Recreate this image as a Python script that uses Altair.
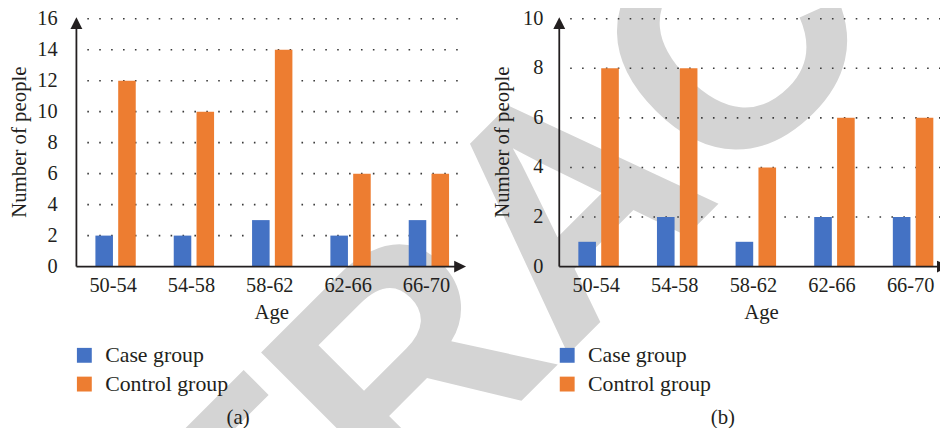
import altair as alt
import pandas as pd

# ---------------- data ----------------
ages = ["50-54", "54-58", "58-62", "62-66", "66-70"]
groups = ["Case group", "Control group"]
case_a = [2, 2, 3, 2, 3]
control_a = [12, 10, 14, 6, 6]
case_b = [1, 2, 1, 2, 2]
control_b = [8, 8, 4, 6, 6]
ticks_a = [0, 2, 4, 6, 8, 10, 12, 14, 16]
ticks_b = [0, 2, 4, 6, 8, 10]
colors = ["#4472C4", "#ED7D31"]
captions = ["(a)", "(b)"]
y_title = "Number of people"
x_title = "Age"
watermark = "RETRACTED"

SERIF = "Liberation Serif"
INK = "#231f20"
W_TOTAL, H_TOTAL = 940, 420
Y0, Y1 = 259, 9  # pixel range of value axis (zero, top)
ARROW_UP = "M-1,1L0,-1L1,1Z"
ARROW_RIGHT = "M-1,-1L1,0L-1,1Z"


def one():
    return pd.DataFrame({"k": [0]})


def panel(case, control, ticks, ymax, cfg):
    x0 = cfg["x0"]
    df = pd.DataFrame({
        "age": ages * 2,
        "group": [groups[0]] * 5 + [groups[1]] * 5,
        "value": case + control,
    })
    xs = alt.Scale(domain=ages, range=[x0, x0 + cfg["bandw"]],
                   paddingInner=0.485, paddingOuter=0.2425)
    ys = alt.Scale(domain=[0, ymax], range=[Y0, Y1], nice=False, zero=True)
    xo = alt.Scale(domain=groups, paddingInner=0.23, paddingOuter=0)
    cs = alt.Scale(domain=groups, range=colors)

    legend = alt.Legend(
        orient="none", legendX=x0 - 3, legendY=337.5, title=None,
        symbolType="square", symbolSize=225, symbolStrokeWidth=0,
        labelFont=SERIF, labelFontSize=22, labelColor=INK,
        labelOffset=10, rowPadding=7, padding=0, direction="vertical",
    )

    bars = alt.Chart(df).mark_bar().encode(
        x=alt.X("age:N", scale=xs, axis=None, sort=ages),
        xOffset=alt.XOffset("group:N", scale=xo, sort=groups),
        y=alt.Y("value:Q", scale=ys, axis=None),
        color=alt.Color("group:N", scale=cs, legend=legend),
    )

    grid = alt.Chart(pd.DataFrame({"v": ticks[1:]})).mark_rule(
        strokeDash=[1.6, 10.4], strokeWidth=1.6, color="#3a3a3a"
    ).encode(
        y=alt.Y("v:Q", scale=ys, axis=None),
        x=alt.value(cfg["gx0"]), x2=alt.value(cfg["gx1"]),
    )

    ylab = alt.Chart(pd.DataFrame({"v": ticks})).mark_text(
        align="right", baseline="middle", font=SERIF, fontSize=20.5, color=INK
    ).encode(
        y=alt.Y("v:Q", scale=ys, axis=None),
        x=alt.value(cfg["labx"]),
        text="v:Q",
    )

    xlab = alt.Chart(pd.DataFrame({"age": ages})).mark_text(
        align="center", baseline="alphabetic", font=SERIF, fontSize=20.5,
        color=INK, dx=-2.5
    ).encode(
        x=alt.X("age:N", scale=xs, axis=None, sort=ages),
        y=alt.value(285),
        text="age:N",
    )

    yaxis = alt.Chart(one()).mark_rule(strokeWidth=1.8, color=INK).encode(
        x=alt.value(x0), y=alt.value(Y0), y2=alt.value(19)
    )
    xaxis = alt.Chart(one()).mark_rule(strokeWidth=1.8, color=INK).encode(
        x=alt.value(x0), x2=alt.value(cfg["xend"]), y=alt.value(Y0)
    )
    yarrow = alt.Chart(one()).mark_point(
        shape=ARROW_UP, filled=True, size=144, color=INK, opacity=1, strokeWidth=0
    ).encode(x=alt.value(x0), y=alt.value(13.5))
    xarrow = alt.Chart(one()).mark_point(
        shape=ARROW_RIGHT, filled=True, size=144, color=INK, opacity=1, strokeWidth=0
    ).encode(x=alt.value(cfg["xend"] + 1), y=alt.value(Y0))

    ytitle = alt.Chart(pd.DataFrame({"t": [y_title]})).mark_text(
        angle=270, align="center", baseline="alphabetic", font=SERIF,
        fontSize=21, color=INK
    ).encode(x=alt.value(cfg["ytx"]), y=alt.value(133.5), text="t:N")

    xtitle = alt.Chart(pd.DataFrame({"t": [x_title]})).mark_text(
        align="center", baseline="alphabetic", font=SERIF, fontSize=21, color=INK
    ).encode(x=alt.value(cfg["xtx"]), y=alt.value(312), text="t:N")

    cap = alt.Chart(pd.DataFrame({"t": [cfg["cap"]]})).mark_text(
        align="center", baseline="alphabetic", font=SERIF, fontSize=21, color=INK
    ).encode(x=alt.value(cfg["capx"]), y=alt.value(418), text="t:N")

    return alt.layer(grid, bars, yaxis, xaxis, yarrow, xarrow,
                     ylab, xlab, ytitle, xtitle, cap)


cfg_a = dict(x0=69, bandw=395, gx0=80, gx1=456, labx=50, xend=455,
             ytx=18, xtx=266, cap=captions[0], capx=232)
cfg_b = dict(x0=556, bandw=396.5, gx0=567, gx1=945, labx=540, xend=942,
             ytx=505.5, xtx=760, cap=captions[1], capx=721)

panel_a = panel(case_a, control_a, ticks_a, 16, cfg_a)
panel_b = panel(case_b, control_b, ticks_b, 10, cfg_b)

mark_wm = alt.Chart(pd.DataFrame({"t": [watermark]})).mark_text(
    angle=315, align="center", baseline="middle",
    font="Liberation Sans", fontWeight="bold", fontSize=320, color="#d4d4d4"
).encode(x=alt.value(573), y=alt.value(203.5), text="t:N")

chart = alt.layer(mark_wm, panel_a, panel_b).resolve_scale(
    x="independent", y="independent", color="independent", xOffset="independent"
).properties(
    width=W_TOTAL, height=H_TOTAL, padding=0,
    autosize=alt.AutoSizeParams(type="none"),
).configure_view(stroke=None)

chart.save("out.html", embed_options={"renderer": "svg", "actions": False})
